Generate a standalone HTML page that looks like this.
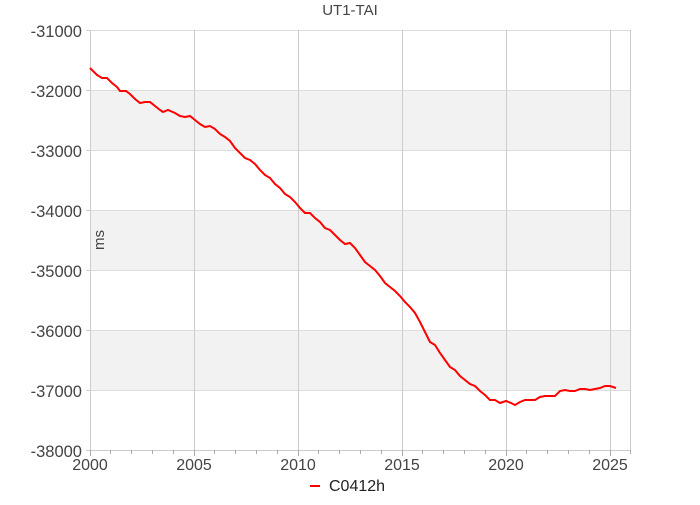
<!DOCTYPE html>
<html><head><meta charset="utf-8"><style>
html,body{margin:0;padding:0;background:#fff;}
svg text{font-family:"Liberation Sans",sans-serif;}
</style></head><body>
<svg width="700" height="500" xmlns="http://www.w3.org/2000/svg">
<rect width="700" height="500" fill="#fff"/>
<rect x="90" y="90" width="540" height="60" fill="#f2f2f2"/>
<rect x="90" y="210" width="540" height="60" fill="#f2f2f2"/>
<rect x="90" y="330" width="540" height="60" fill="#f2f2f2"/>
<g stroke="#dcdcdc" stroke-width="1">
<line x1="90" y1="30.5" x2="630" y2="30.5"/>
<line x1="90" y1="90.5" x2="630" y2="90.5"/>
<line x1="90" y1="150.5" x2="630" y2="150.5"/>
<line x1="90" y1="210.5" x2="630" y2="210.5"/>
<line x1="90" y1="270.5" x2="630" y2="270.5"/>
<line x1="90" y1="330.5" x2="630" y2="330.5"/>
<line x1="90" y1="390.5" x2="630" y2="390.5"/>
</g>
<g stroke="#cccccc" stroke-width="1">
<line x1="90.5" y1="30" x2="90.5" y2="450"/>
<line x1="194.5" y1="30" x2="194.5" y2="450"/>
<line x1="298.5" y1="30" x2="298.5" y2="450"/>
<line x1="402.5" y1="30" x2="402.5" y2="450"/>
<line x1="506.5" y1="30" x2="506.5" y2="450"/>
<line x1="610.5" y1="30" x2="610.5" y2="450"/>
<line x1="630.5" y1="30" x2="630.5" y2="450"/>
<line x1="90" y1="450.5" x2="630" y2="450.5"/>
<line x1="86" y1="30.5" x2="90" y2="30.5"/>
<line x1="86" y1="90.5" x2="90" y2="90.5"/>
<line x1="86" y1="150.5" x2="90" y2="150.5"/>
<line x1="86" y1="210.5" x2="90" y2="210.5"/>
<line x1="86" y1="270.5" x2="90" y2="270.5"/>
<line x1="86" y1="330.5" x2="90" y2="330.5"/>
<line x1="86" y1="390.5" x2="90" y2="390.5"/>
<line x1="86" y1="450.5" x2="90" y2="450.5"/>
</g>
<g fill="#444" font-size="16.5" text-anchor="end">
<text x="82" y="37">-31000</text>
<text x="82" y="97">-32000</text>
<text x="82" y="157">-33000</text>
<text x="82" y="217">-34000</text>
<text x="82" y="277">-35000</text>
<text x="82" y="337">-36000</text>
<text x="82" y="397">-37000</text>
<text x="82" y="457">-38000</text>
</g>
<g fill="#444" font-size="16" text-anchor="middle">
<text x="90" y="470">2000</text>
<text x="194" y="470">2005</text>
<text x="298" y="470">2010</text>
<text x="402" y="470">2015</text>
<text x="506" y="470">2020</text>
<text x="610" y="470">2025</text>
</g>
<text x="350" y="15" fill="#444" font-size="15" text-anchor="middle">UT1-TAI</text>
<text x="104" y="240" fill="#444" font-size="15" text-anchor="middle" transform="rotate(-90 104 240)">ms</text>
<polyline fill="none" stroke="#ff0000" stroke-width="2" points="90,68 97,75 102,78 107,78 112,83 117,87 120,91 126,91 130,94 135,99 140,103 145,102 150,102 155,106 160,110 163,112 168,110 175,113 180,116 185,117 190,116 195,120 200,124 205,127 210,126 215,129 220,134 225,137 230,141 235,148 240,153 245,158 250,160 255,164 260,170 265,175 270,178 275,184 280,188 285,194 290,197 295,202 300,208 305,213 310,213 315,218 320,222 325,228 330,230 335,235 340,240 345,244 350,243 355,248 360,255 365,262 370,266 375,270 380,276 385,283 390,287 395,291 400,296 405,302 410,307 415,313 420,322 425,332 430,342 435,345 440,353 445,360 450,367 455,370 460,376 465,380 470,384 475,386 480,391 485,395 490,400 495,400 500,403 506,401 511,403 515,405 520,402 525,400 530,400 535,400 540,397 545,396 550,396 555,396 560,391 565,390 570,391 575,391 580,389 585,389 590,390 595,389 600,388 605,386 610,386 616,388"/>
<line x1="310" y1="486" x2="320" y2="486" stroke="#ff0000" stroke-width="2"/>
<text x="329" y="491" fill="#222" font-size="16">C0412h</text>
<g stroke="#aaa" stroke-width="1">
<line x1="110.5" y1="450" x2="110.5" y2="454"/><line x1="131.5" y1="450" x2="131.5" y2="454"/><line x1="152.5" y1="450" x2="152.5" y2="454"/><line x1="173.5" y1="450" x2="173.5" y2="454"/>
<line x1="214.5" y1="450" x2="214.5" y2="454"/><line x1="235.5" y1="450" x2="235.5" y2="454"/><line x1="256.5" y1="450" x2="256.5" y2="454"/><line x1="277.5" y1="450" x2="277.5" y2="454"/>
<line x1="318.5" y1="450" x2="318.5" y2="454"/><line x1="339.5" y1="450" x2="339.5" y2="454"/><line x1="360.5" y1="450" x2="360.5" y2="454"/><line x1="381.5" y1="450" x2="381.5" y2="454"/>
<line x1="422.5" y1="450" x2="422.5" y2="454"/><line x1="443.5" y1="450" x2="443.5" y2="454"/><line x1="464.5" y1="450" x2="464.5" y2="454"/><line x1="485.5" y1="450" x2="485.5" y2="454"/>
<line x1="526.5" y1="450" x2="526.5" y2="454"/><line x1="547.5" y1="450" x2="547.5" y2="454"/><line x1="568.5" y1="450" x2="568.5" y2="454"/><line x1="589.5" y1="450" x2="589.5" y2="454"/>
<line x1="630.5" y1="450" x2="630.5" y2="454"/>
<line x1="90.5" y1="450" x2="90.5" y2="456"/><line x1="194.5" y1="450" x2="194.5" y2="456"/><line x1="298.5" y1="450" x2="298.5" y2="456"/><line x1="402.5" y1="450" x2="402.5" y2="456"/><line x1="506.5" y1="450" x2="506.5" y2="456"/><line x1="610.5" y1="450" x2="610.5" y2="456"/>
</g>
</svg>
</body></html>
